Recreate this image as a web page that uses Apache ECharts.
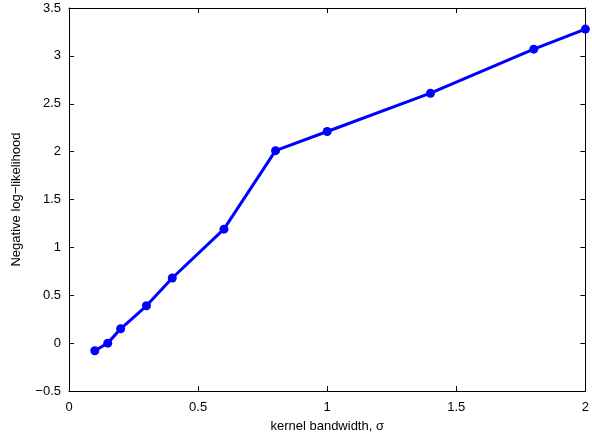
<!DOCTYPE html>
<html>
<head>
<meta charset="UTF-8">
<script src="https://cdn.jsdelivr.net/npm/echarts@6/dist/echarts.min.js"></script>
<style>
  html, body { margin: 0; background: #fff; }
  #chart { width: 592px; height: 438px; }
</style>
</head>
<body>
<div id="chart"></div>
<script>
  // kernel bandwidth vs negative log-likelihood
  const sigma = [0.1, 0.15, 0.2, 0.3, 0.4, 0.6, 0.8, 1.0, 1.4, 1.8, 2.0];
  const nll = [-0.08, 0.0, 0.15, 0.39, 0.68, 1.19, 2.01, 2.21, 2.61, 3.07, 3.28];
  const xTicks = [0, 0.5, 1, 1.5, 2];
  const yTicks = [-0.5, 0, 0.5, 1, 1.5, 2, 2.5, 3, 3.5];

  const font = 'Liberation Sans, Arial, sans-serif';
  const fmt = v => (v < 0 ? '\u2212' + Math.abs(v) : String(v));

  const chart = echarts.init(document.getElementById('chart'));

  const baseAxis = {
    type: 'value',
    interval: 0.5,
    axisLine: { show: true, onZero: false, lineStyle: { color: '#000', width: 1 } },
    axisTick: { show: true, inside: true, length: 5, lineStyle: { color: '#000' } },
    splitLine: { show: false },
    axisLabel: { color: '#000', fontFamily: font, fontSize: 13, formatter: fmt }
  };

  chart.setOption({
    animation: false,
    backgroundColor: '#fff',
    grid: { left: 69, right: 5, top: 8, bottom: 46 },
    xAxis: [
      Object.assign({}, baseAxis, {
        min: xTicks[0], max: xTicks[xTicks.length - 1],
        position: 'bottom',
        axisLabel: Object.assign({}, baseAxis.axisLabel, { margin: 10 }),
        name: 'kernel bandwidth, \u03c3',
        nameLocation: 'middle',
        nameGap: 29,
        nameTextStyle: { color: '#000', fontFamily: font, fontSize: 13 }
      }),
      Object.assign({}, baseAxis, {
        min: xTicks[0], max: xTicks[xTicks.length - 1],
        position: 'top',
        axisLabel: { show: false }
      })
    ],
    yAxis: [
      Object.assign({}, baseAxis, {
        min: yTicks[0], max: yTicks[yTicks.length - 1],
        position: 'left',
        axisLabel: Object.assign({}, baseAxis.axisLabel, { margin: 8 }),
        name: 'Negative log\u2212likelihood',
        nameLocation: 'middle',
        nameGap: 46,
        nameTextStyle: { color: '#000', fontFamily: font, fontSize: 13 }
      }),
      Object.assign({}, baseAxis, {
        min: yTicks[0], max: yTicks[yTicks.length - 1],
        position: 'right',
        axisLabel: { show: false }
      })
    ],
    series: [{
      type: 'line',
      data: sigma.map((s, i) => [s, nll[i]]),
      symbol: 'circle',
      symbolSize: 9,
      lineStyle: { color: '#0000ff', width: 3 },
      itemStyle: { color: '#0000ff' }
    }]
  });
</script>
</body>
</html>
